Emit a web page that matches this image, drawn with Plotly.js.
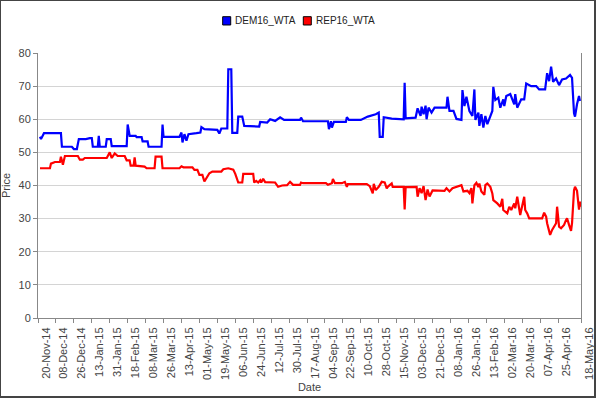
<!DOCTYPE html>
<html>
<head>
<meta charset="utf-8">
<script src="https://cdn.plot.ly/plotly-3.0.1.min.js"></script>
<style>
  html, body { margin: 0; padding: 0; background: #fff; overflow: hidden; }
  #wrap { position: relative; width: 596px; height: 398px; }
  #chart { position: absolute; left: 0; top: 0; width: 596px; height: 398px; }
  #frame { position: absolute; left: 0; top: 0; width: 596px; height: 398px; box-sizing: border-box;
           border-left: 1px solid #444; border-top: 1px solid #444; border-right: 2px solid #444; border-bottom: 2px solid #444;
           pointer-events: none; }
</style>
</head>
<body>
<div id="wrap"><div id="chart"></div><div id="frame"></div></div>
<script>
const demDates = ["2014-11-22","2014-11-23","2014-11-26","2014-12-13","2014-12-14","2014-12-24","2014-12-26","2014-12-29","2014-12-31","2015-01-07","2015-01-11","2015-01-13","2015-01-14","2015-01-19","2015-01-20","2015-01-21","2015-01-27","2015-01-28","2015-02-01","2015-02-02","2015-02-17","2015-02-18","2015-02-20","2015-02-26","2015-02-27","2015-03-04","2015-03-05","2015-03-10","2015-03-11","2015-03-24","2015-03-25","2015-03-26","2015-04-11","2015-04-13","2015-04-14","2015-04-16","2015-04-18","2015-04-20","2015-04-28","2015-05-02","2015-05-03","2015-05-06","2015-05-19","2015-05-21","2015-05-23","2015-05-29","2015-05-30","2015-06-02","2015-06-03","2015-06-08","2015-06-09","2015-06-13","2015-06-15","2015-06-30","2015-07-01","2015-07-08","2015-07-11","2015-07-16","2015-07-21","2015-07-25","2015-08-10","2015-08-11","2015-08-13","2015-09-07","2015-09-08","2015-09-10","2015-09-11","2015-09-13","2015-09-25","2015-09-26","2015-09-28","2015-10-10","2015-10-17","2015-10-25","2015-10-28","2015-10-29","2015-11-01","2015-11-02","2015-11-10","2015-11-18","2015-11-22","2015-11-23","2015-11-24","2015-12-04","2015-12-06","2015-12-09","2015-12-10","2015-12-12","2015-12-14","2015-12-15","2015-12-17","2015-12-20","2015-12-23","2016-01-04","2016-01-05","2016-01-07","2016-01-11","2016-01-14","2016-01-19","2016-01-20","2016-01-22","2016-01-24","2016-01-27","2016-01-30","2016-02-01","2016-02-02","2016-02-05","2016-02-06","2016-02-08","2016-02-10","2016-02-12","2016-02-14","2016-02-16","2016-02-19","2016-02-20","2016-02-22","2016-02-25","2016-02-27","2016-03-01","2016-03-02","2016-03-04","2016-03-08","2016-03-12","2016-03-13","2016-03-15","2016-03-19","2016-03-22","2016-03-24","2016-03-29","2016-04-03","2016-04-06","2016-04-12","2016-04-14","2016-04-16","2016-04-18","2016-04-20","2016-04-23","2016-04-26","2016-04-29","2016-05-03","2016-05-07","2016-05-09","2016-05-11","2016-05-12","2016-05-14","2016-05-16","2016-05-17"];
const demValues = [54.7,54.0,55.8,55.8,51.7,51.7,51.0,51.0,54.0,54.0,54.3,54.3,51.7,51.7,55.0,51.7,51.7,54.0,54.0,51.9,51.9,58.4,55.0,55.0,54.6,54.6,53.3,53.3,51.7,51.7,58.4,54.7,54.7,56.0,53.0,55.5,53.5,55.5,55.8,56.0,57.6,57.0,56.8,55.7,57.2,57.2,75.1,75.1,55.9,55.9,60.8,60.8,58.0,57.8,59.2,59.0,60.0,59.5,60.6,59.8,59.8,60.5,59.4,59.4,57.0,59.4,57.5,59.2,59.2,60.6,59.8,59.8,60.8,61.5,62.0,54.7,54.7,60.6,60.2,60.0,60.0,71.0,60.3,60.5,63.3,61.0,63.8,61.5,64.1,60.0,63.5,62.0,63.5,63.5,66.8,62.5,62.5,60.1,59.8,68.8,64.0,66.8,62.5,61.0,69.0,59.8,62.0,58.0,61.5,57.5,61.0,58.5,60.0,62.5,69.8,65.8,66.5,63.5,66.0,64.0,67.0,67.6,64.5,67.6,63.5,66.0,66.0,70.8,70.0,70.0,69.0,69.0,73.9,71.5,75.9,71.3,72.3,70.3,72.0,72.3,73.4,72.5,61.8,60.8,64.5,67.0,65.5];

const repDates = ["2014-11-22","2014-12-02","2014-12-03","2014-12-07","2014-12-12","2014-12-13","2014-12-15","2014-12-17","2014-12-30","2015-01-01","2015-01-04","2015-01-06","2015-01-28","2015-01-31","2015-02-02","2015-02-05","2015-02-08","2015-02-15","2015-02-17","2015-02-20","2015-02-21","2015-02-24","2015-02-25","2015-02-26","2015-03-07","2015-03-09","2015-03-17","2015-03-18","2015-03-24","2015-03-25","2015-04-11","2015-04-13","2015-04-15","2015-04-24","2015-04-26","2015-04-29","2015-05-01","2015-05-04","2015-05-06","2015-05-08","2015-05-11","2015-05-14","2015-05-23","2015-05-25","2015-05-30","2015-06-04","2015-06-06","2015-06-09","2015-06-13","2015-06-14","2015-06-24","2015-06-25","2015-06-27","2015-06-29","2015-07-01","2015-07-02","2015-07-04","2015-07-06","2015-07-16","2015-07-19","2015-07-23","2015-07-28","2015-07-31","2015-08-03","2015-08-10","2015-08-11","2015-08-13","2015-09-05","2015-09-07","2015-09-11","2015-09-12","2015-09-14","2015-09-21","2015-09-24","2015-09-26","2015-09-27","2015-10-16","2015-10-19","2015-10-22","2015-10-23","2015-10-25","2015-10-28","2015-10-31","2015-11-03","2015-11-05","2015-11-06","2015-11-10","2015-11-11","2015-11-22","2015-11-23","2015-11-24","2015-12-05","2015-12-06","2015-12-08","2015-12-10","2015-12-12","2015-12-14","2015-12-16","2015-12-18","2015-12-21","2016-01-02","2016-01-04","2016-01-07","2016-01-10","2016-01-14","2016-01-19","2016-01-21","2016-01-25","2016-01-27","2016-01-29","2016-01-30","2016-02-01","2016-02-03","2016-02-05","2016-02-06","2016-02-08","2016-02-11","2016-02-12","2016-02-14","2016-02-17","2016-02-19","2016-02-20","2016-02-24","2016-02-27","2016-02-29","2016-03-01","2016-03-05","2016-03-07","2016-03-09","2016-03-12","2016-03-13","2016-03-15","2016-03-18","2016-03-20","2016-03-22","2016-03-23","2016-03-25","2016-03-27","2016-04-09","2016-04-11","2016-04-13","2016-04-14","2016-04-17","2016-04-19","2016-04-21","2016-04-23","2016-04-24","2016-04-26","2016-04-28","2016-05-01","2016-05-03","2016-05-04","2016-05-06","2016-05-08","2016-05-09","2016-05-11","2016-05-12","2016-05-14","2016-05-16","2016-05-17","2016-05-18"];
const repValues = [45.2,45.2,46.6,47.1,47.1,48.7,46.3,48.9,48.9,47.8,47.8,48.3,48.3,50.0,48.3,49.7,48.9,48.9,47.6,47.6,46.0,46.0,48.5,46.0,45.7,45.2,45.2,48.7,48.7,45.2,45.2,45.8,45.5,45.5,44.7,44.7,43.2,43.2,41.2,42.2,43.7,44.2,44.2,44.9,45.2,44.8,43.5,40.9,40.9,43.5,43.5,40.9,41.4,40.9,41.6,40.9,42.0,41.0,40.9,39.6,40.0,40.1,41.1,40.2,40.2,40.9,40.7,40.7,40.2,40.7,42.0,40.7,40.7,41.1,39.6,40.4,40.4,39.8,37.6,40.5,38.6,39.6,41.1,40.9,39.1,39.6,40.6,39.6,39.6,32.8,39.5,39.6,36.6,39.2,37.7,39.8,35.6,38.8,36.7,38.5,38.4,39.2,38.2,39.2,39.6,40.1,38.2,38.4,37.7,39.2,34.6,40.1,40.8,39.5,40.6,38.2,37.2,40.1,40.6,39.6,37.6,35.6,34.6,33.6,36.0,32.6,31.6,33.6,32.6,34.6,33.1,36.6,31.1,33.6,36.6,32.6,31.6,30.1,30.1,31.8,30.6,28.6,25.1,26.6,27.6,28.6,33.6,27.6,27.1,28.1,29.6,30.1,28.1,26.3,28.6,38.6,39.6,38.4,32.7,35.1,33.6];

const tickDates = ["2014-11-20","2014-12-08","2014-12-26","2015-01-13","2015-01-31","2015-02-18","2015-03-08","2015-03-26","2015-04-13","2015-05-01","2015-05-19","2015-06-06","2015-06-24","2015-07-12","2015-07-30","2015-08-17","2015-09-04","2015-09-22","2015-10-10","2015-10-28","2015-11-15","2015-12-03","2015-12-21","2016-01-08","2016-01-26","2016-02-13","2016-03-02","2016-03-20","2016-04-07","2016-04-25","2016-05-18"];
const tickLabels = ["20-Nov-14","08-Dec-14","26-Dec-14","13-Jan-15","31-Jan-15","18-Feb-15","08-Mar-15","26-Mar-15","13-Apr-15","01-May-15","19-May-15","06-Jun-15","24-Jun-15","12-Jul-15","30-Jul-15","17-Aug-15","04-Sep-15","22-Sep-15","10-Oct-15","28-Oct-15","15-Nov-15","03-Dec-15","21-Dec-15","08-Jan-16","26-Jan-16","13-Feb-16","02-Mar-16","20-Mar-16","07-Apr-16","25-Apr-16","18-May-16"];

const seriesNames = ["DEM16_WTA", "REP16_WTA"];
const seriesColors = ["#0000ff", "#ff0000"];

const FONT = '"Liberation Sans", Arial, sans-serif';

const traces = [
  {x: demDates, y: demValues, type: 'scatter', mode: 'lines', name: seriesNames[0],
   line: {color: seriesColors[0], width: 2.2}, showlegend: false, hoverinfo: 'skip'},
  {x: repDates, y: repValues, type: 'scatter', mode: 'lines', name: seriesNames[1],
   line: {color: seriesColors[1], width: 2.2}, showlegend: false, hoverinfo: 'skip'}
];

// Legend drawn in paper coordinates (top centre, above the plot area)
const legendSquares = [[0.3401, 0.3549], [0.4886, 0.5033]];
const legendTextX = [0.3600, 0.5092];
const legendY = [1.1057, 1.1370];
const shapes = legendSquares.map((sq, i) => ({
  type: 'rect', xref: 'paper', yref: 'paper', x0: sq[0], x1: sq[1], y0: legendY[0], y1: legendY[1],
  fillcolor: seriesColors[i], line: {color: '#000', width: 1}
}));
const annotations = seriesNames.map((name, i) => ({
  xref: 'paper', yref: 'paper', x: legendTextX[i], y: (legendY[0] + legendY[1]) / 2,
  xanchor: 'left', yanchor: 'middle', showarrow: false, text: name,
  font: {family: FONT, size: 10, color: '#222'}
}));

const layout = {
  width: 596, height: 398,
  margin: {l: 38, r: 15, t: 53, b: 80, pad: 0},
  paper_bgcolor: '#ffffff', plot_bgcolor: '#ffffff',
  font: {family: FONT, size: 11, color: '#444'},
  showlegend: false,
  shapes: shapes,
  annotations: annotations,
  xaxis: {
    type: 'date', range: ['2014-11-20', '2016-05-18'],
    tickmode: 'array', tickvals: tickDates, ticktext: tickLabels,
    tickangle: -90, ticks: 'outside', ticklen: 4, tickcolor: '#888', tickwidth: 1,
    ticklabelshift: 8,
    showgrid: false, zeroline: false,
    showline: true, linecolor: '#888', linewidth: 1,
    tickfont: {family: FONT, size: 11, color: '#444'},
    title: {text: 'Date', font: {family: FONT, size: 11, color: '#444'}, standoff: 4},
    fixedrange: true
  },
  yaxis: {
    range: [0, 80], dtick: 10, tick0: 0,
    ticks: 'outside', ticklen: 4, tickcolor: '#888', tickwidth: 1,
    showgrid: true, gridcolor: '#d4d4d4', gridwidth: 1,
    zeroline: false,
    showline: true, linecolor: '#888', linewidth: 1, mirror: true,
    tickfont: {family: FONT, size: 11, color: '#444'},
    title: {text: 'Price', font: {family: FONT, size: 11, color: '#444'}, standoff: 6},
    fixedrange: true
  }
};

Plotly.newPlot('chart', traces, layout, {staticPlot: true, displayModeBar: false});
</script>
</body>
</html>
